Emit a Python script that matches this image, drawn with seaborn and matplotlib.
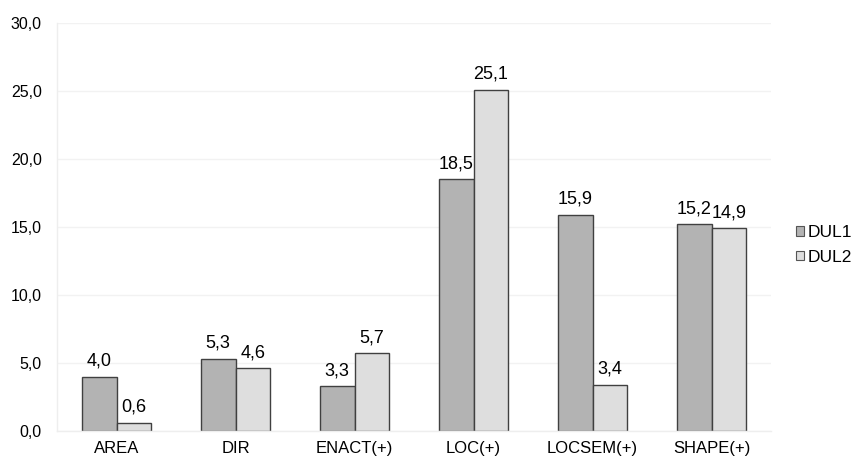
import matplotlib
matplotlib.use("Agg")
import matplotlib.pyplot as plt
import seaborn as sns
import pandas as pd
from matplotlib.patches import Patch

categories = ["AREA", "DIR", "ENACT(+)", "LOC(+)", "LOCSEM(+)", "SHAPE(+)"]
series = ["DUL1", "DUL2"]
dul1 = [4.0, 5.3, 3.3, 18.5, 15.9, 15.2]
dul2 = [0.6, 4.6, 5.7, 25.1, 3.4, 14.9]
y_ticks = [0, 5, 10, 15, 20, 25, 30]

colors = {"DUL1": "#b3b3b3", "DUL2": "#dedede"}

df = pd.DataFrame({
    "cat": categories * 2,
    "series": ["DUL1"] * len(categories) + ["DUL2"] * len(categories),
    "value": dul1 + dul2,
})

sns.set_style("white")
plt.rcParams["font.family"] = ["Liberation Sans", "DejaVu Sans"]
plt.rcParams["text.color"] = "#000000"
plt.rcParams["xtick.color"] = "#000000"
plt.rcParams["ytick.color"] = "#000000"

fig = plt.figure(figsize=(8.52, 4.72), dpi=100)
ax = fig.add_axes([57 / 852, 1 - 431 / 472, (771 - 57) / 852, (431 - 23) / 472])

sns.barplot(data=df, x="cat", y="value", hue="series", palette=colors,
            order=categories, hue_order=series, width=0.58,
            edgecolor="#404040", linewidth=1.0, ax=ax, legend=False,
            errorbar=None)

for cont, vals in zip(ax.containers, [dul1, dul2]):
    ax.bar_label(cont, labels=[f"{v:.1f}".replace(".", ",") for v in vals],
                 padding=5, fontsize=13, color="#000000")

ax.set_ylim(0, 30)
ax.set_xlim(-0.5, len(categories) - 0.5)
ax.set_yticks(y_ticks)
ax.set_yticklabels([f"{v:.1f}".replace(".", ",") for v in y_ticks], fontsize=11.5)
ax.tick_params(axis="y", length=0, pad=11)
ax.tick_params(axis="x", which="major", length=0, pad=7, labelsize=12)
ax.set_xticks([i - 0.5 for i in range(len(categories) + 1)], minor=True)
ax.tick_params(axis="x", which="minor", length=5, color="#eeeeee", width=1)
ax.set_xlabel("")
ax.set_ylabel("")

ax.yaxis.grid(True, color="#f2f2f2", linewidth=1)
ax.set_axisbelow(True)
for side in ["top", "right"]:
    ax.spines[side].set_visible(False)
for side in ["left", "bottom"]:
    ax.spines[side].set_color("#eeeeee")
    ax.spines[side].set_linewidth(1)

handles = [Patch(facecolor=colors[s], edgecolor="#555555", linewidth=0.8) for s in series]
fig.legend(handles, series, loc="center left", bbox_to_anchor=(796 / 852, 1 - 245 / 472),
           frameon=False, fontsize=12.5, handlelength=0.45, handleheight=0.45,
           handletextpad=0.2, labelspacing=0.55, borderpad=0, borderaxespad=0)

fig.savefig("out.png", dpi=100)
